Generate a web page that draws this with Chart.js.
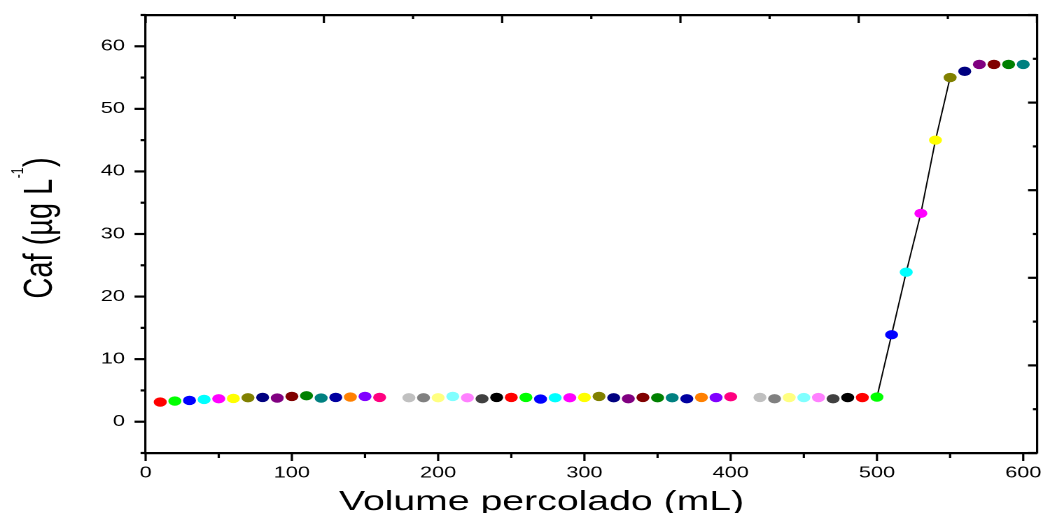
<!DOCTYPE html>
<html><head><meta charset="utf-8">
<script src="https://cdn.jsdelivr.net/npm/chart.js@4"></script>
<style>
html,body{margin:0;padding:0;background:#fff;overflow:hidden;width:1045px;height:513px;}
#wrap{position:absolute;left:0;top:0;width:746px;height:513px;transform:scaleX(1.4);transform-origin:0 0;}
</style></head><body>
<div id="wrap"><canvas id="c"></canvas></div>
<script>
// ---- data ----
const volume = [10,20,30,40,50,60,70,80,90,100,
  110,120,130,140,150,160,170,180,190,200,
  210,220,230,240,250,260,270,280,290,300,
  310,320,330,340,350,360,370,380,390,400,
  410,420,430,440,450,460,470,480,490,500,
  510,520,530,540,550,560,570,580,590,600];
const caf = [3.14,3.30,3.40,3.56,3.67,3.72,3.83,3.88,3.78,4.04,
  4.15,3.78,3.88,3.94,4.04,3.88,3.90,3.83,3.83,3.83,
  4.04,3.83,3.67,3.88,3.88,3.88,3.62,3.83,3.83,3.88,
  4.04,3.83,3.67,3.88,3.83,3.83,3.67,3.88,3.86,3.99,
  3.90,3.88,3.67,3.86,3.86,3.86,3.67,3.86,3.86,3.94,
  13.9,23.9,33.3,45.0,55.0,56.0,57.1,57.1,57.1,57.1];
const xTickValues = [0,100,200,300,400,500,600];
const xMinorValues = [50,150,250,350,450,550];
const yTickValues = [0,10,20,30,40,50,60];
const yMinorValues = [-5,5,15,25,35,45,55,65];
const topTickValues = [0,100,200,300,400,500];
const topMinorValues = [50,150,250,350,450];
const rightTickValues = [0,10,20,30,40,50];
const rightMinorValues = [5,15,25,35,45];
const xTitle = 'Volume percolado (mL)';
const yTitleMain = 'Caf (µg L';
const yTitleSup = '-1';
const yTitleEnd = ')';

// ---- style ----
const palette = ['#000000','#FF0000','#00FF00','#0000FF','#00FFFF','#FF00FF','#FFFF00','#808000',
  '#000080','#800080','#800000','#008000','#008080','#0000A0','#FF8000','#8000FF',
  '#FF0080','#FFFFFF','#C0C0C0','#808080','#FFFF80','#80FFFF','#FF80FF','#404040'];
const FONT = '"Liberation Sans", Arial, Helvetica, sans-serif';
const HLW = 2.2;      // thickness of horizontal lines
const VLW = 1.6;      // thickness of vertical lines (stretched x1.4 by CSS)
const pointColors = volume.map((v, i) => palette[(i + 1) % palette.length]);

const decorPlugin = {
  id: 'decor',
  afterDraw(chart) {
    const ctx = chart.ctx, a = chart.chartArea, s = chart.scales;
    ctx.save();
    ctx.strokeStyle = '#000';
    ctx.lineCap = 'butt';
    const seg = (x1, y1, x2, y2, w) => { ctx.lineWidth = w; ctx.beginPath(); ctx.moveTo(x1, y1); ctx.lineTo(x2, y2); ctx.stroke(); };
    // bottom axis: outward ticks
    xTickValues.forEach(v => { const p = s.x.getPixelForValue(v); seg(p, a.bottom, p, a.bottom + 8, VLW); });
    xMinorValues.forEach(v => { const p = s.x.getPixelForValue(v); seg(p, a.bottom, p, a.bottom + 5, VLW); });
    // top axis: inward ticks
    topTickValues.forEach(v => { const p = s.x2.getPixelForValue(v); seg(p, a.top, p, a.top + 8, VLW); });
    topMinorValues.forEach(v => { const p = s.x2.getPixelForValue(v); seg(p, a.top, p, a.top + 4, VLW); });
    // left axis: outward ticks
    yTickValues.forEach(v => { const p = s.y.getPixelForValue(v); seg(a.left - 7.9, p, a.left, p, HLW); });
    yMinorValues.forEach(v => { const p = s.y.getPixelForValue(v); seg(a.left - 3.6, p, a.left, p, HLW); });
    // right axis: inward ticks
    rightTickValues.forEach(v => { const p = s.y2.getPixelForValue(v); seg(a.right - 6.4, p, a.right, p, HLW); });
    rightMinorValues.forEach(v => { const p = s.y2.getPixelForValue(v); seg(a.right - 2.9, p, a.right, p, HLW); });

    // axis titles
    ctx.fillStyle = '#000';
    ctx.textBaseline = 'alphabetic';
    ctx.textAlign = 'center';
    ctx.font = '28px ' + FONT;
    ctx.fillText(xTitle, 386.8, 510);

    ctx.save();
    ctx.translate(36.8, 228);
    ctx.rotate(-Math.PI / 2);
    ctx.textAlign = 'left';
    const mainFont = '29px ' + FONT, supFont = '12px ' + FONT;
    ctx.font = mainFont; const w1 = ctx.measureText(yTitleMain).width; const w3 = ctx.measureText(yTitleEnd).width;
    ctx.font = supFont; const w2 = ctx.measureText(yTitleSup).width;
    let x0 = -(w1 + w2 + w3 + 1) / 2;
    ctx.font = mainFont; ctx.fillText(yTitleMain, x0, 0); x0 += w1 + 0.5;
    ctx.font = supFont; ctx.fillText(yTitleSup, x0, -20.5); x0 += w2 + 0.5;
    ctx.font = mainFont; ctx.fillText(yTitleEnd, x0, 0);
    ctx.restore();
    ctx.restore();
  }
};

const axisBorder = (w) => ({ display: true, color: '#000', width: w });
const noGrid = { display: false, drawTicks: false, tickLength: 0 };
const fixSize = (prop, val) => sc => {
  sc[prop] = val;
  sc.paddingLeft = 0; sc.paddingRight = 0; sc.paddingTop = 0; sc.paddingBottom = 0;
};

new Chart(document.getElementById('c'), {
  type: 'line',
  data: {
    datasets: [{
      data: volume.map((v, i) => ({ x: v, y: caf[i] })),
      borderColor: '#000',
      borderWidth: 1,
      pointRadius: 4.65,
      pointHoverRadius: 4.65,
      pointBorderWidth: 0,
      pointBackgroundColor: pointColors,
      pointBorderColor: pointColors,
      segment: {
        borderColor: c => Math.abs(caf[c.p1DataIndex] - caf[c.p0DataIndex]) > 5 ? '#000' : 'rgba(0,0,0,0)'
      },
      fill: false,
      tension: 0
    }]
  },
  options: {
    responsive: true,
    maintainAspectRatio: false,
    animation: false,
    devicePixelRatio: 2,
    events: [],
    layout: { padding: 0, autoPadding: false },
    plugins: { legend: { display: false }, tooltip: { enabled: false } },
    scales: {
      x: {
        type: 'linear', position: 'bottom', min: 0, max: 609.4,
        afterBuildTicks: sc => { sc.ticks = xTickValues.map(v => ({ value: v })); },
        afterFit: fixSize('height', 60),
        grid: noGrid, border: axisBorder(HLW),
        ticks: { color: '#000', font: { family: FONT, size: 15.5 }, padding: 11, maxRotation: 0, autoSkip: false }
      },
      x2: {
        type: 'linear', axis: 'x', position: 'top', min: 0, max: 500,
        afterFit: fixSize('height', 15),
        grid: noGrid, border: axisBorder(HLW), ticks: { display: false }
      },
      y: {
        type: 'linear', position: 'left', min: -5, max: 65,
        afterBuildTicks: sc => { sc.ticks = yTickValues.map(v => ({ value: v })); },
        afterFit: fixSize('width', 104),
        grid: noGrid, border: axisBorder(VLW),
        ticks: { color: '#000', font: { family: FONT, size: 15.5 }, padding: 14.7, autoSkip: false }
      },
      y2: {
        type: 'linear', axis: 'y', position: 'right', min: 0, max: 50,
        afterFit: fixSize('width', 5.3),
        grid: noGrid, border: axisBorder(VLW), ticks: { display: false }
      }
    }
  },
  plugins: [decorPlugin]
});
</script>
</body></html>
